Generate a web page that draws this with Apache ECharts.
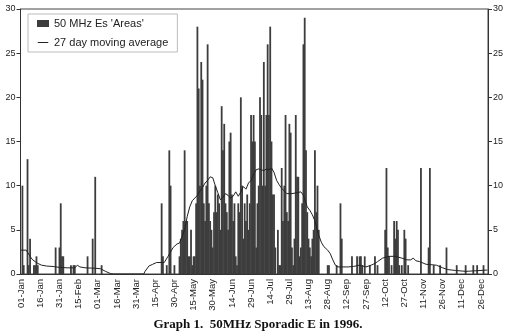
<!DOCTYPE html>
<html>
<head>
<meta charset="utf-8">
<script src="https://cdn.jsdelivr.net/npm/echarts@6/dist/echarts.min.js"></script>
<style>
html,body{margin:0;padding:0;background:#fff;}
#c{width:516px;height:331px;}
</style>
</head>
<body>
<div id="c"></div>
<script>
// Day-of-year index (0 = 01-Jan-1996) for days with 50 MHz Es 'Areas'
const esDays = [1,2,5,6,7,10,11,12,13,27,30,31,32,33,39,41,42,52,56,58,63,110,111,114,116,117,120,
  124,125,126,127,128,129,130,131,132,133,134,135,136,137,138,139,140,141,142,143,144,145,146,147,148,149,
  150,151,152,153,154,155,156,157,158,159,160,161,162,163,164,165,166,167,168,169,170,171,172,173,174,175,
  176,177,178,179,180,181,182,183,184,185,186,187,188,189,190,191,192,193,194,195,196,197,198,199,201,202,
  203,204,205,206,207,208,209,210,211,212,213,214,215,216,217,218,219,220,221,222,223,224,225,226,227,228,
  229,230,231,232,233,240,241,247,250,251,
  259,263,265,266,267,269,273,277,279,285,286,287,288,290,292,293,294,295,296,298,300,301,303,313,319,320,
  323,328,333,341,348,354,357,362];
const esValues = [10,1,13,1,4,1,1,2,1,3,3,8,2,2,1,1,1,2,4,11,1,8,2,1,14,10,1,
  2,4,5,6,14,6,6,2,2,5,1,2,2,8,28,21,10,24,22,8,6,10,26,8,6,5,
  3,7,10,7,9,8,5,19,14,17,8,7,5,15,16,9,6,8,2,1,8,7,20,10,4,8,
  6,9,5,8,18,15,18,15,3,8,10,20,18,10,24,10,18,26,18,28,15,9,9,3,5,1,
  1,12,6,10,18,7,6,17,16,3,1,4,18,11,11,2,3,8,26,29,14,7,4,3,2,4,
  5,14,7,10,5,1,1,1,8,4,
  2,2,2,2,1,2,1,2,1,5,12,3,2,1,6,4,6,5,1,1,5,4,1,12,3,12,
  1,1,3,1,1,1,1,1];

// 27 day moving average, read at selected days
const maDays = [0,4,7,9,11,13,16,20,25,30,36,42,44,46,50,58,62,66,70,72,96,97,100,103,106,112,115,119,122,124,
  128,130,132,134,136,138,140,142,144,146,148,150,152,154,156,158,160,162,164,166,168,170,172,174,176,178,
  180,182,184,186,188,190,192,194,196,198,200,202,204,206,208,212,216,219,221,224,226,228,230,233,235,237,
  240,242,244,246,248,252,256,260,265,270,274,277,279,283,288,293,298,302,305,307,309,312,317,325,330,334,
  340,348,354,360,365];
const maValues = [2.7,2.7,2.0,1.6,1.4,1.2,1.0,0.9,0.85,0.75,0.7,0.7,1.0,0.8,0.7,0.65,0.6,0.3,0.05,0,0,0.3,0.9,1.1,1.3,1.3,2.0,3.0,3.4,3.5,
  5.0,6.5,7.6,8.3,8.6,8.9,9.4,9.8,10.3,10.6,11.0,10.9,10.0,9.2,8.4,8.7,9.1,8.9,8.6,8.8,9.3,8.8,9.3,9.9,9.6,10.3,
  10.6,11.3,11.8,11.9,11.8,11.7,11.9,11.8,12.0,11.5,10.6,10.1,9.7,9.4,9.1,9.1,9.2,9.3,8.9,7.6,7.2,6.7,6.0,4.4,3.6,3.1,
  2.7,2.3,1.6,1.0,0.8,0.8,0.8,0.85,1.0,0.8,1.0,1.2,1.4,1.8,2.0,2.0,1.8,1.6,1.6,1.8,1.5,1.4,1.1,1.0,0.7,0.5,
  0.4,0.3,0.35,0.4,0.45];

// X tick labels, one every 15 days starting 01-Jan
const tickLabels = ['01-Jan','16-Jan','31-Jan','15-Feb','01-Mar','16-Mar','31-Mar','15-Apr','30-Apr','15-May',
  '30-May','14-Jun','29-Jun','14-Jul','29-Jul','13-Aug','28-Aug','12-Sep','27-Sep','12-Oct','27-Oct','11-Nov',
  '26-Nov','11-Dec','26-Dec'];
const dayCount = 366;

const categories = [];
for (let i = 0; i < dayCount; i++) categories.push(i);
const barData = esDays.map((d, i) => [d, esValues[i]]);
const lineData = maDays.map((d, i) => [d, maValues[i]]);

const chart = echarts.init(document.getElementById('c'), null, {renderer: 'canvas'});
const font = 'Liberation Sans, Arial, sans-serif';
const yAxisCommon = {
  type: 'value', min: 0, max: 30, interval: 5,
  axisLine: {show: true, lineStyle: {color: '#333', width: 1}},
  axisTick: {show: true, length: 4, lineStyle: {color: '#333'}},
  axisLabel: {fontSize: 9, color: '#222', fontFamily: font, margin: 5},
  splitLine: {show: false}
};
const lineIcon = 'path://M0,0L0.05,0L0.05,0.05L0,0.05Z M0,3.5L12,3.5L12,4.5L0,4.5Z M11.95,7.95L12,7.95L12,8L11.95,8Z';
chart.setOption({
  animation: false,
  backgroundColor: '#fff',
  title: {
    text: 'Graph 1.  50MHz Sporadic E in 1996.',
    left: 'center', top: 313,
    textStyle: {fontFamily: 'Liberation Serif, Times New Roman, serif', fontWeight: 'bold', fontSize: 13, color: '#111'}
  },
  grid: {left: 20.5, right: 28, top: 9, bottom: 57, show: true, borderColor: '#444', borderWidth: 1},
  legend: {
    orient: 'vertical', left: 28, top: 14,
    padding: [4, 9, 4, 9], itemGap: 8,
    itemWidth: 12, itemHeight: 7,
    borderColor: '#bbb', borderWidth: 1,
    textStyle: {fontFamily: font, fontSize: 11, color: '#222'},
    data: [{name: "50 MHz Es 'Areas'", icon: 'rect'}, {name: '27 day moving average', icon: lineIcon}]
  },
  xAxis: {
    type: 'category', data: categories, boundaryGap: true,
    axisLine: {show: true, lineStyle: {color: '#333'}},
    axisTick: {show: false},
    axisLabel: {
      interval: 14, rotate: 90, fontSize: 9.5, color: '#222', fontFamily: font, margin: 5,
      formatter: (v, i) => tickLabels[Math.round(i / 15)] || ''
    }
  },
  yAxis: [
    Object.assign({position: 'left'}, yAxisCommon),
    Object.assign({position: 'right'}, yAxisCommon)
  ],
  series: [
    {
      name: "50 MHz Es 'Areas'", type: 'bar', data: barData,
      barWidth: 1.8, itemStyle: {color: '#3d3d3d'}
    },
    {
      name: '27 day moving average', type: 'line', data: lineData,
      symbol: 'none', lineStyle: {color: '#222', width: 1}, itemStyle: {color: '#222'}, z: 5
    }
  ]
});
</script>
</body>
</html>
